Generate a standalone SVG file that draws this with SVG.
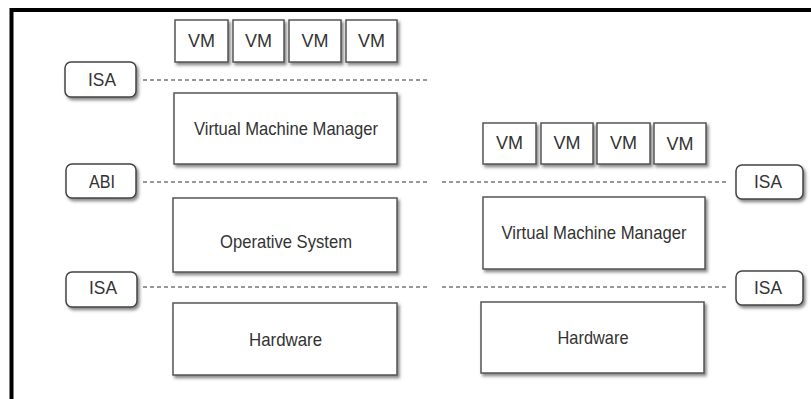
<svg xmlns="http://www.w3.org/2000/svg" width="811" height="399" viewBox="0 0 811 399">
<defs>
<filter id="sh" x="-10%" y="-10%" width="125%" height="135%">
<feDropShadow dx="2" dy="2.5" stdDeviation="1.5" flood-color="#555" flood-opacity="0.7"/>
</filter>
</defs>
<style>
.box{fill:#fff;stroke:#555;stroke-width:1.5;filter:url(#sh)}
.lbl{fill:#fff;stroke:#444;stroke-width:1.5;filter:url(#sh)}
.t{font-family:"Liberation Sans",Arial,sans-serif;font-size:18.5px;fill:#333;text-anchor:middle}
.dash{stroke:#777;stroke-width:1.3;stroke-dasharray:4 3;fill:none}
</style>
<rect width="811" height="399" fill="#fff"/>
<path d="M11.5 399 V10 H811" fill="none" stroke="#000" stroke-width="4"/>
<g id="connectors">
<line class="dash" x1="143" y1="80" x2="430" y2="80"/>
<line class="dash" x1="143" y1="182" x2="428" y2="182"/>
<line class="dash" x1="442" y1="182" x2="728" y2="182"/>
<line class="dash" x1="143" y1="287" x2="428" y2="287"/>
<line class="dash" x1="442" y1="287" x2="728" y2="287"/>
</g>
<g id="vm-l1"><rect class="box" x="175" y="20" width="53" height="42"/><text class="t" x="201.5" y="47" textLength="27" lengthAdjust="spacingAndGlyphs">VM</text></g>
<g id="vm-l2"><rect class="box" x="233" y="20" width="51" height="42"/><text class="t" x="258.5" y="47" textLength="27" lengthAdjust="spacingAndGlyphs">VM</text></g>
<g id="vm-l3"><rect class="box" x="289" y="20" width="52" height="42"/><text class="t" x="315" y="47" textLength="27" lengthAdjust="spacingAndGlyphs">VM</text></g>
<g id="vm-l4"><rect class="box" x="346" y="20" width="51" height="42"/><text class="t" x="371.5" y="47" textLength="27" lengthAdjust="spacingAndGlyphs">VM</text></g>
<g id="isa-l1"><rect class="lbl" x="65" y="62" width="71" height="35" rx="6"/><text class="t" x="102" y="86" textLength="28" lengthAdjust="spacingAndGlyphs">ISA</text></g>
<g id="vmm-l"><rect class="box" x="174" y="93" width="223" height="71"/><text class="t" x="286" y="135" textLength="184" lengthAdjust="spacingAndGlyphs">Virtual Machine Manager</text></g>
<g id="abi-l"><rect class="lbl" x="66" y="164" width="70" height="34" rx="6"/><text class="t" x="102" y="188" textLength="26" lengthAdjust="spacingAndGlyphs">ABI</text></g>
<g id="os-l"><rect class="box" x="173" y="198" width="224" height="74"/><text class="t" x="286" y="248" textLength="132" lengthAdjust="spacingAndGlyphs">Operative System</text></g>
<g id="isa-l2"><rect class="lbl" x="66" y="272" width="71" height="35" rx="6"/><text class="t" x="103" y="294" textLength="28" lengthAdjust="spacingAndGlyphs">ISA</text></g>
<g id="hw-l"><rect class="box" x="173" y="303" width="224" height="72"/><text class="t" x="285.5" y="346" textLength="73" lengthAdjust="spacingAndGlyphs">Hardware</text></g>
<g id="vm-r1"><rect class="box" x="483" y="123" width="53" height="41"/><text class="t" x="509.5" y="149" textLength="27" lengthAdjust="spacingAndGlyphs">VM</text></g>
<g id="vm-r2"><rect class="box" x="541" y="123" width="52" height="41"/><text class="t" x="567" y="149" textLength="27" lengthAdjust="spacingAndGlyphs">VM</text></g>
<g id="vm-r3"><rect class="box" x="597" y="123" width="53" height="41"/><text class="t" x="623.5" y="149" textLength="27" lengthAdjust="spacingAndGlyphs">VM</text></g>
<g id="vm-r4"><rect class="box" x="654" y="123" width="52" height="41"/><text class="t" x="680" y="150" textLength="27" lengthAdjust="spacingAndGlyphs">VM</text></g>
<g id="isa-r1"><rect class="lbl" x="736" y="165" width="67" height="34" rx="6"/><text class="t" x="768" y="188" textLength="28" lengthAdjust="spacingAndGlyphs">ISA</text></g>
<g id="vmm-r"><rect class="box" x="483" y="197" width="222" height="72"/><text class="t" x="594" y="239" textLength="185" lengthAdjust="spacingAndGlyphs">Virtual Machine Manager</text></g>
<g id="isa-r2"><rect class="lbl" x="736" y="271" width="67" height="34" rx="6"/><text class="t" x="768" y="294" textLength="28" lengthAdjust="spacingAndGlyphs">ISA</text></g>
<g id="hw-r"><rect class="box" x="481" y="302" width="223" height="71"/><text class="t" x="593" y="344" textLength="71" lengthAdjust="spacingAndGlyphs">Hardware</text></g>
</svg>
